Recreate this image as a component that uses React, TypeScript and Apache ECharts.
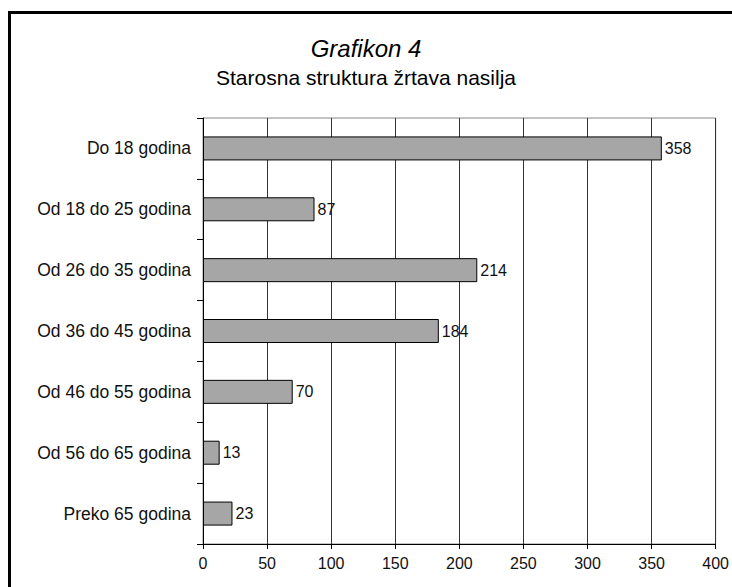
import React, { useEffect, useRef } from 'react';
import * as echarts from 'echarts';

const categories = [
  'Do 18 godina',
  'Od 18 do 25 godina',
  'Od 26 do 35 godina',
  'Od 36 do 45 godina',
  'Od 46 do 55 godina',
  'Od 56 do 65 godina',
  'Preko 65 godina',
];
const values = [358, 87, 214, 184, 70, 13, 23];
const titleLine1 = 'Grafikon 4';
const titleLine2 = 'Starosna struktura žrtava nasilja';
const xMin = 0;
const xMax = 400;
const xInterval = 50;

const FONT = '"Liberation Sans", Arial, Helvetica, sans-serif';

export default function App() {
  const ref = useRef<HTMLDivElement>(null);
  useEffect(() => {
    document.body.style.margin = '0';
    const chart = echarts.init(ref.current!, null, { renderer: 'svg' });
    chart.setOption({
      animation: false,
      backgroundColor: '#ffffff',
      textStyle: { fontFamily: FONT },
      title: [
        {
          text: titleLine1,
          left: 'center',
          top: 31,
          textStyle: { fontFamily: FONT, fontSize: 24, fontWeight: 'normal', fontStyle: 'italic', color: '#000' },
        },
        {
          text: titleLine2,
          left: 'center',
          top: 62,
          textStyle: { fontFamily: FONT, fontSize: 21, fontWeight: 'normal', color: '#000' },
        },
      ],
      graphic: [
        {
          type: 'rect',
          silent: true,
          shape: { x: 9.5, y: 12.5, width: 800, height: 700 },
          style: { fill: 'none', stroke: '#000', lineWidth: 3 },
        },
      ],
      grid: {
        left: 203,
        right: 14,
        top: 118,
        bottom: 43,
        show: true,
        borderColor: '#888',
        borderWidth: 1,
        containLabel: false,
      },
      xAxis: {
        type: 'value',
        min: xMin,
        max: xMax,
        interval: xInterval,
        axisLine: { show: true, lineStyle: { color: '#000', width: 1 } },
        axisTick: { show: true, length: 5, lineStyle: { color: '#000' } },
        axisLabel: { fontFamily: FONT, fontSize: 16, color: '#111', margin: 11 },
        splitLine: { show: true, lineStyle: { color: '#333', width: 1 } },
      },
      yAxis: {
        type: 'category',
        data: categories,
        inverse: true,
        axisLine: { show: true, lineStyle: { color: '#000', width: 1 } },
        axisTick: { show: true, length: 6, alignWithLabel: false, lineStyle: { color: '#000' } },
        axisLabel: { fontFamily: FONT, fontSize: 17.5, color: '#111', margin: 12 },
        splitLine: { show: false },
      },
      series: [
        {
          type: 'bar',
          data: values,
          barWidth: 24,
          itemStyle: { color: '#a6a6a6', borderColor: '#000', borderWidth: 1 },
          label: {
            show: true,
            position: 'right',
            distance: 3,
            fontFamily: FONT,
            fontSize: 16,
            color: '#111',
          },
        },
      ],
    });
    return () => chart.dispose();
  }, []);
  return <div ref={ref} style={{ width: 732, height: 587 }} />;
}
